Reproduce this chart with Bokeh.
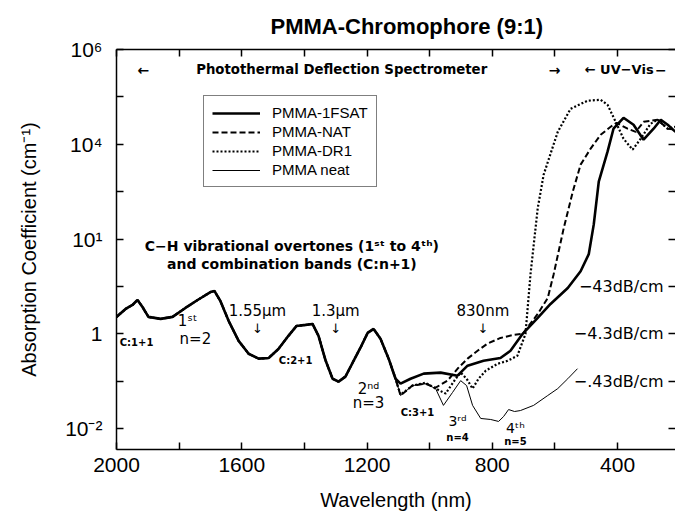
import numpy as np
from bokeh.plotting import figure
from bokeh.models import Range1d, FixedTicker, LinearAxis, LogAxis, Legend, LegendItem
from bokeh.core.properties import value
from bokeh.embed import file_html
from bokeh.resources import INLINE

# ---------------- data ----------------
# C-H overtone region, 2000-1100 nm: all four samples overlap
common_nm = [2000, 1971, 1949, 1933, 1917, 1898, 1859, 1821, 1780, 1741, 1700, 1687, 1668,
             1642, 1610, 1578, 1546, 1514, 1483, 1451, 1425, 1396, 1374, 1355, 1332, 1310,
             1291, 1269, 1246, 1221, 1198, 1179, 1157, 1131, 1109]
common_alpha = [2.28, 3.35, 4.07, 5.2, 3.69, 2.28, 2.07, 2.28, 3.52, 5.18, 7.6, 8.0, 4.9,
                1.88, 0.71, 0.38, 0.30, 0.31, 0.48, 0.91, 1.47, 1.55, 1.62, 0.91, 0.27, 0.113,
                0.098, 0.125, 0.246, 0.51, 1.05, 1.27, 0.785, 0.30, 0.113]

fsat_nm = [1093, 1061, 1019, 965, 911, 879, 828, 774, 742, 703, 655, 614, 559, 518, 492, 476,
           460, 432, 413, 381, 349, 317, 285, 262, 240, 215]
fsat_alpha = [0.089, 0.113, 0.145, 0.152, 0.131, 0.213, 0.27, 0.31, 0.44, 1.0, 2.17, 4.27, 9.25,
              21, 48, 204, 1630, 6980, 21300, 36200, 25800, 12500, 21300, 33000, 25800, 18300]

nat_nm = [1093, 1055, 1013, 981, 943, 908, 879, 847, 816, 774, 732, 703, 655, 623, 604, 572,
          543, 518, 486, 454, 422, 403, 368, 342, 317, 272, 240, 215]
nat_alpha = [0.05, 0.081, 0.089, 0.073, 0.103, 0.193, 0.30, 0.44, 0.62, 0.82, 0.95, 1.0, 2.63,
             5.7, 18.2, 169, 1000, 3720, 8100, 15900, 23400, 28400, 21300, 18300, 29800, 33000,
             21300, 20300]

dr1_nm = [1093, 1055, 1013, 981, 949, 917, 901, 882, 863, 844, 821, 783, 751, 720, 694, 678,
          655, 636, 591, 550, 496, 454, 432, 406, 381, 352, 326, 295, 272, 240, 215]
dr1_alpha = [0.052, 0.081, 0.093, 0.07, 0.055, 0.113, 0.152, 0.113, 0.07, 0.113, 0.167, 0.234,
             0.27, 0.345, 1.0, 18.2, 445, 2290, 18300, 56000, 83000, 87000, 68000, 29800,
             13100, 7700, 13100, 27000, 33000, 21300, 23400]

neat_nm = [1093, 1055, 1013, 981, 956, 927, 901, 882, 863, 837, 805, 780, 764, 748, 729, 710,
           668, 623, 591, 559, 528]
neat_alpha = [0.050, 0.081, 0.089, 0.070, 0.031, 0.058, 0.103, 0.081, 0.031, 0.0164, 0.0156,
              0.0142, 0.018, 0.0253, 0.023, 0.0241, 0.031, 0.050, 0.070, 0.113, 0.184]

series_names = ["PMMA-1FSAT", "PMMA-NAT", "PMMA-DR1", "PMMA neat"]

x_ticks = [2000, 1800, 1600, 1400, 1200, 1000, 800, 600, 400, 200]
x_tick_labels = {2000: "2000", 1800: "", 1600: "1600", 1400: "", 1200: "1200", 1000: "",
                 800: "800", 600: "", 400: "400", 200: ""}
y_ticks = [1e-2, 1e-1, 1.0, 1e1, 1e2, 1e3, 1e4, 1e5, 1e6]
y_tick_labels = ["10\u207b\u00b2", "", "1", "", "10\u00b9", "", "10\u2074", "", "10\u2076"]
db_levels = [10.0, 1.0, 0.1]
db_labels = ["\u221243dB/cm", "\u22124.3dB/cm", "\u2212.43dB/cm"]

# ---------------- figure ----------------
FONT = "Liberation Sans"
ANN_FONT = "DejaVu Sans"
p = figure(width=675, height=515, x_range=Range1d(2000, 215),
           y_range=Range1d(10 ** -2.44, 1e6), y_axis_type="log",
           output_backend="svg", toolbar_location=None,
           min_border_left=116, min_border_right=0, min_border_top=48, min_border_bottom=66,
           outline_line_color=None, background_fill_color="white")
p.xgrid.grid_line_color = None
p.ygrid.grid_line_color = None

def style_axis(ax):
    ax.axis_line_width = 1.5
    ax.axis_line_color = "black"
    ax.major_tick_line_width = 1.5
    ax.major_tick_line_color = "black"
    ax.major_tick_in = 7
    ax.major_tick_out = 0
    ax.minor_tick_line_color = None
    ax.major_label_text_font = FONT
    ax.major_label_text_font_size = "21px"
    ax.major_label_text_color = "black"
    ax.axis_label_text_font = FONT
    ax.axis_label_text_font_size = "20px"
    ax.axis_label_text_font_style = "normal"
    ax.axis_label_text_color = "black"

xax = p.xaxis[0]
style_axis(xax)
xax.ticker = FixedTicker(ticks=x_ticks, minor_ticks=[])
xax.major_label_overrides = {k: v for k, v in x_tick_labels.items()}
xax.axis_label = "Wavelength (nm)"
xax.major_label_standoff = 8
xax.axis_label_standoff = 14

yax = p.yaxis[0]
style_axis(yax)
yax.ticker = FixedTicker(ticks=y_ticks, minor_ticks=[])
yax.major_label_overrides = {float(t): l for t, l in zip(y_ticks, y_tick_labels)}
yax.axis_label = "Absorption Coefficient (cm\u207b\u00b9)"
yax.major_label_standoff = 14
yax.axis_label_standoff = 22

top = LinearAxis(ticker=FixedTicker(ticks=x_ticks, minor_ticks=[]))
style_axis(top)
top.major_label_overrides = {k: "" for k in x_ticks}
top.major_label_standoff = 0
p.add_layout(top, "above")

right = LogAxis(ticker=FixedTicker(ticks=y_ticks, minor_ticks=[]))
style_axis(right)
right.axis_line_color = None
right.major_label_standoff = 0
right.major_label_overrides = {float(t): "" for t in y_ticks}
p.add_layout(right, "right")

p.title.text = "PMMA-Chromophore (9:1)"
p.title.text_font = FONT
p.title.text_font_size = "22px"
p.title.text_font_style = "bold"
p.title.text_color = "black"
p.title.align = "left"
p.title.offset = 154
p.title.standoff = 22

# ---------------- curves ----------------
r1 = p.line(common_nm + fsat_nm, common_alpha + fsat_alpha, line_color="black", line_width=2.6)
r2 = p.line(common_nm + nat_nm, common_alpha + nat_alpha, line_color="black", line_width=2,
            line_dash="6 3")
r3 = p.line(common_nm + dr1_nm, common_alpha + dr1_alpha, line_color="black", line_width=2.2,
            line_dash="2 2")
r4 = p.line(common_nm + neat_nm, common_alpha + neat_alpha, line_color="black", line_width=1)

legend = Legend(items=[LegendItem(label=n, renderers=[r]) for n, r in
                       zip(series_names, [r1, r2, r3, r4])],
                location=(87, 262), border_line_color="black", border_line_width=1.5,
                label_text_font=FONT, label_text_font_size="15px", label_text_color="black",
                glyph_width=48, glyph_height=16, label_height=16, spacing=2,
                padding=8, margin=0, label_standoff=12)
p.add_layout(legend)

# ---------------- annotations ----------------
def txt(xs, ys, texts, size, style="bold", align="center", font=ANN_FONT):
    p.text(x=xs, y=ys, text=texts, text_font=value(font), text_font_size=size,
           text_font_style=style, text_align=align, text_baseline="middle", text_color="black")

row = 3.7e5
txt([1914], [row], ["\u2190"], "14px")
txt([1281], [row], ["Photothermal Deflection Spectrometer"], "13.3px")
txt([601], [row], ["\u2192"], "14px")
txt([505], [row], ["\u2190 UV\u2212Vis"], "13px", align="left")
txt([262], [row], ["\u2212"], "14px")

txt([1440, 1440], [70, 29.5],
    ["C\u2212H vibrational overtones (1\u02e2\u1d57 to 4\u1d57\u02b0)",
     "and combination bands (C:n+1)"], "14px")

txt([1550, 1300, 830], [3.0, 3.0, 3.0], ["1.55\u03bcm", "1.3\u03bcm", "830nm"], "15px", style="normal")
txt([1550, 1300, 830], [1.3, 1.3, 1.3], ["\u2193", "\u2193", "\u2193"], "13px", style="normal")

txt([1936, 1428, 1039], [0.65, 0.27, 0.022], ["C:1+1", "C:2+1", "C:3+1"], "10px")
txt([1773, 1195], [1.9, 0.07], ["1\u02e2\u1d57", "2\u207f\u1d48"], "15px", style="normal")
txt([1748, 1195], [0.78, 0.0355], ["n=2", "n=3"], "15px", style="normal")
txt([911, 726], [0.0148, 0.0102], ["3\u02b3\u1d48", "4\u1d57\u02b0"], "14px", style="normal")
txt([911, 726], [0.0066, 0.0054], ["n=4", "n=5"], "10px")

txt([253] * 3, db_levels, db_labels, "16px", style="normal", align="right")

open("out.html", "w").write(file_html(p, INLINE))
